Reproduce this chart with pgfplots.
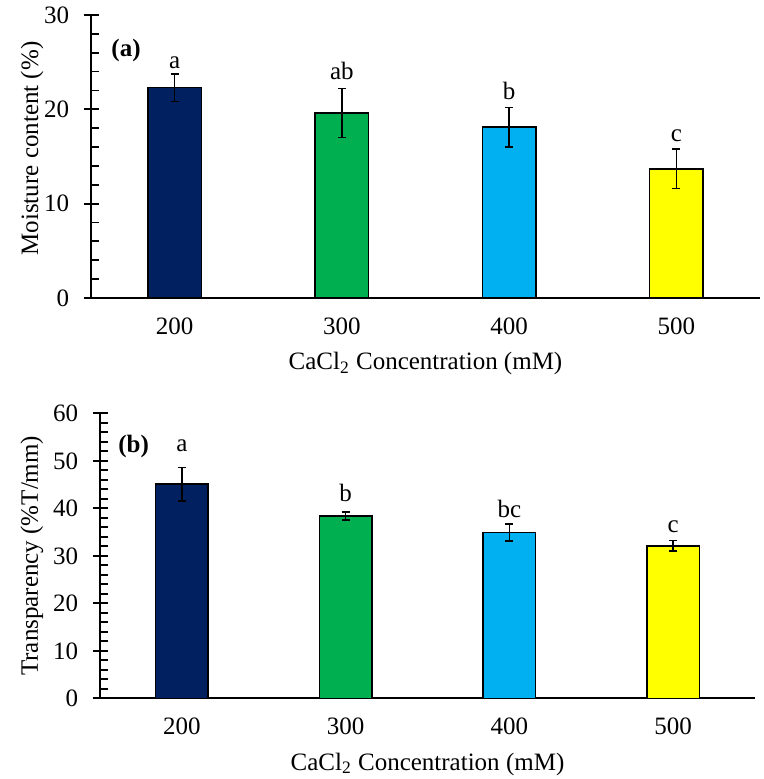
\documentclass[border=0pt]{standalone}
\usepackage{pgfplots}
\pgfplotsset{compat=1.18}
\usepackage{fontspec}
\setmainfont{Liberation Serif}
\definecolor{cnavy}{HTML}{002060}
\definecolor{cgreen}{HTML}{00B050}
\definecolor{cblue}{HTML}{00B0F0}
\definecolor{cyellow}{HTML}{FFFF00}
\newcommand{\fs}{\fontsize{12.5}{15}\selectfont}
\pgfplotsset{
  mybars/.style={
    scale only axis,
    anchor=south west,
    axis x line=bottom, axis y line=left,
    axis line style={line width=0.9pt, -},
    x axis line style={shorten <=-3.5pt},
    xmin=-0.5, xmax=3.5, ymin=0,
    xtick={0,1,2,3}, xticklabels={200,300,400,500},
    x tick style={draw=none},
    major tick length=7.5pt, minor tick length=4pt,
    tick align=center,
    y tick style={line width=0.9pt, black},
    minor y tick style={xshift=2pt, line width=0.9pt},
    minor y tick num=4,
    /pgf/number format/assume math mode=true,
    tick label style={font=\fs},
    yticklabel style={anchor=east, inner sep=0pt, xshift=-7pt},
    xticklabel style={anchor=north, inner sep=0pt, yshift=-2pt},
    label style={font=\fs},
    xlabel style={at={(axis description cs:0.5,0)}, anchor=base, inner sep=0pt},
    ylabel style={at={(axis description cs:0,0.5)}, anchor=center, inner sep=0pt},
    ybar, bar width=0.32, bar shift=0pt,
    every axis plot/.append style={draw=black, line width=0.8pt},
    error bars/error bar style={line width=0.8pt, black},
    error bars/error mark options={rotate=90, mark size=2pt, line width=0.8pt, black},
    clip=false,
  },
}
\begin{document}
\begin{tikzpicture}
\path[use as bounding box] (0,0) rectangle (381.5pt,-389.5pt);
% ---------- (a) ----------
\begin{axis}[mybars,
  at={(45.5pt,-149pt)}, width=334.5pt, height=141.5pt,
  ymax=30, ytick={0,10,20,30},
  xlabel={CaCl\textsubscript{2} Concentration (mM)},
  xlabel style={yshift=-36pt},
  ylabel={Moisture content (\%)},
  ylabel style={yshift=29.5pt, xshift=4pt},
]
\addplot[fill=cnavy, error bars/.cd, y dir=both, y explicit] coordinates {(0,22.3) +- (0,1.45)};
\addplot[fill=cgreen, error bars/.cd, y dir=both, y explicit] coordinates {(1,19.6) +- (0,2.6)};
\addplot[fill=cblue, error bars/.cd, y dir=both, y explicit] coordinates {(2,18.1) +- (0,2.1)};
\addplot[fill=cyellow, error bars/.cd, y dir=both, y explicit] coordinates {(3,13.7) +- (0,2.1)};
\node[anchor=base west, font=\fs\bfseries, inner sep=0pt] at (axis cs:-0.38,25.6) {(a)};
\node[anchor=base, font=\fs, inner sep=0pt] at (axis cs:0,24.35) {a};
\node[anchor=base, font=\fs, inner sep=0pt] at (axis cs:1,23.2) {ab};
\node[anchor=base, font=\fs, inner sep=0pt] at (axis cs:2,21.0) {b};
\node[anchor=base, font=\fs, inner sep=0pt] at (axis cs:3,16.6) {c};
\end{axis}
% ---------- (b) ----------
\begin{axis}[mybars,
  at={(50pt,-349.15pt)}, width=327.5pt, height=142.5pt,
  ymax=60, ytick={0,10,...,60},
  xlabel={CaCl\textsubscript{2} Concentration (mM)},
  xlabel style={yshift=-35.85pt},
  ylabel={Transparency (\%T/mm)},
  ylabel style={yshift=34pt},
]
\addplot[fill=cnavy, error bars/.cd, y dir=both, y explicit] coordinates {(0,45.1) +- (0,3.5)};
\addplot[fill=cgreen, error bars/.cd, y dir=both, y explicit] coordinates {(1,38.4) +- (0,0.8)};
\addplot[fill=cblue, error bars/.cd, y dir=both, y explicit] coordinates {(2,34.9) +- (0,1.8)};
\addplot[fill=cyellow, error bars/.cd, y dir=both, y explicit] coordinates {(3,32.1) +- (0,1.1)};
\node[anchor=base west, font=\fs\bfseries, inner sep=0pt] at (axis cs:-0.39,51.7) {(b)};
\node[anchor=base, font=\fs, inner sep=0pt] at (axis cs:0,51.9) {a};
\node[anchor=base, font=\fs, inner sep=0pt] at (axis cs:1,41.4) {b};
\node[anchor=base, font=\fs, inner sep=0pt] at (axis cs:2,38.0) {bc};
\node[anchor=base, font=\fs, inner sep=0pt] at (axis cs:3,34.9) {c};
\end{axis}
\end{tikzpicture}
\end{document}
